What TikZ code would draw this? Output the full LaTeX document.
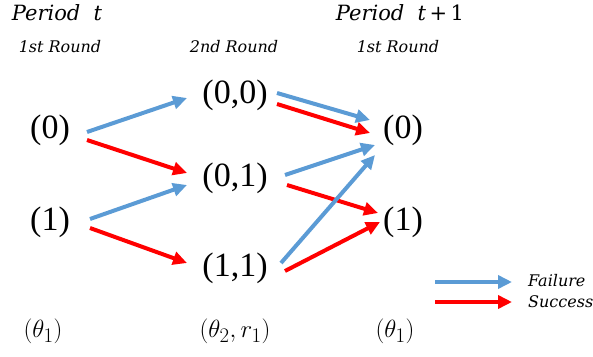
\documentclass[tikz,border=0pt]{standalone}
\usepackage{fontspec}
\setmainfont{Liberation Serif}
\newfontfamily\labfont{DejaVu Serif}
\usetikzlibrary{arrows.meta}
\definecolor{fblue}{HTML}{5B9BD5}
\definecolor{sred}{HTML}{FF0000}
\begin{document}
\begin{tikzpicture}[x=1pt,y=-1pt,
  state/.style={font=\fontsize{34}{36}\selectfont, inner sep=0pt},
  head/.style={font=\fontsize{21}{23}\selectfont\labfont\itshape, inner sep=0pt},
  round/.style={font=\fontsize{16}{18}\selectfont\labfont\itshape, inner sep=0pt},
  var/.style={font=\fontsize{28}{30}\selectfont, inner sep=0pt},
  leg/.style={font=\fontsize{16}{18}\selectfont\labfont\itshape, inner sep=0pt, anchor=west},
  fail/.style={draw=fblue, line width=4pt, -{Triangle[length=14pt,width=13pt]}},
  succ/.style={draw=sred, line width=4pt, -{Triangle[length=14pt,width=13pt]}}]
\useasboundingbox (0,0) rectangle (593,356);
% headers
\node[head] (pt) at (57,13) {Period\ \ t};
\node[head] (pt1) at (400,13) {Period\ \ t\,{\upshape +}\,{\upshape 1}};
\node[round] (r1) at (60,47) {1st Round};
\node[round] (r2) at (234,47) {2nd Round};
\node[round] (r3) at (398,47) {1st Round};
% states
\node[state] (L0) at (50,130) {(0)};
\node[state] (L1) at (50,222) {(1)};
\node[state] (M00) at (235,95) {(0,0)};
\node[state] (M01) at (235,178) {(0,1)};
\node[state] (M11) at (235,268) {(1,1)};
\node[state] (R0) at (403,130) {(0)};
\node[state] (R1) at (403,222) {(1)};
% variables
\node[var] (v1) at (43,331) {$(\theta_1)$};
\node[var] (v2) at (235,331) {$(\theta_2,r_1)$};
\node[var] (v3) at (395,331) {$(\theta_1)$};
% arrows
\draw[fail] ([shift={(37,2)}]L0.center) -- ([shift={(-48,3)}]M00.center);
\draw[succ] ([shift={(37,10)}]L0.center) -- ([shift={(-48,-5)}]M01.center);
\draw[fail] ([shift={(40,-3)}]L1.center) -- ([shift={(-48,7)}]M01.center);
\draw[succ] ([shift={(40,6)}]L1.center) -- ([shift={(-48,-5)}]M11.center);
\draw[fail] ([shift={(42,-2)}]M00.center) -- ([shift={(-33,-10)}]R0.center);
\draw[succ] ([shift={(42,9)}]M00.center) -- ([shift={(-33,3)}]R0.center);
\draw[fail] ([shift={(50,-3)}]M01.center) -- ([shift={(-28,15)}]R0.center);
\draw[succ] ([shift={(52,7)}]M01.center) -- ([shift={(-25,-9)}]R1.center);
\draw[fail] ([shift={(46,-5)}]M11.center) -- ([shift={(-28,25)}]R0.center);
\draw[succ] ([shift={(50,3)}]M11.center) -- ([shift={(-23,0)}]R1.center);
% legend
\node[leg] (lf) at (528,281) {Failure};
\node[leg] (ls) at (528,302) {Success};
\coordinate (lfs) at (435,282);
\coordinate (lss) at (435,302);
\draw[fail] (lfs) -- ([xshift=-16pt,yshift=-1pt]lf.west);
\draw[succ] (lss) -- ([xshift=-16pt]ls.west);
\end{tikzpicture}
\end{document}
